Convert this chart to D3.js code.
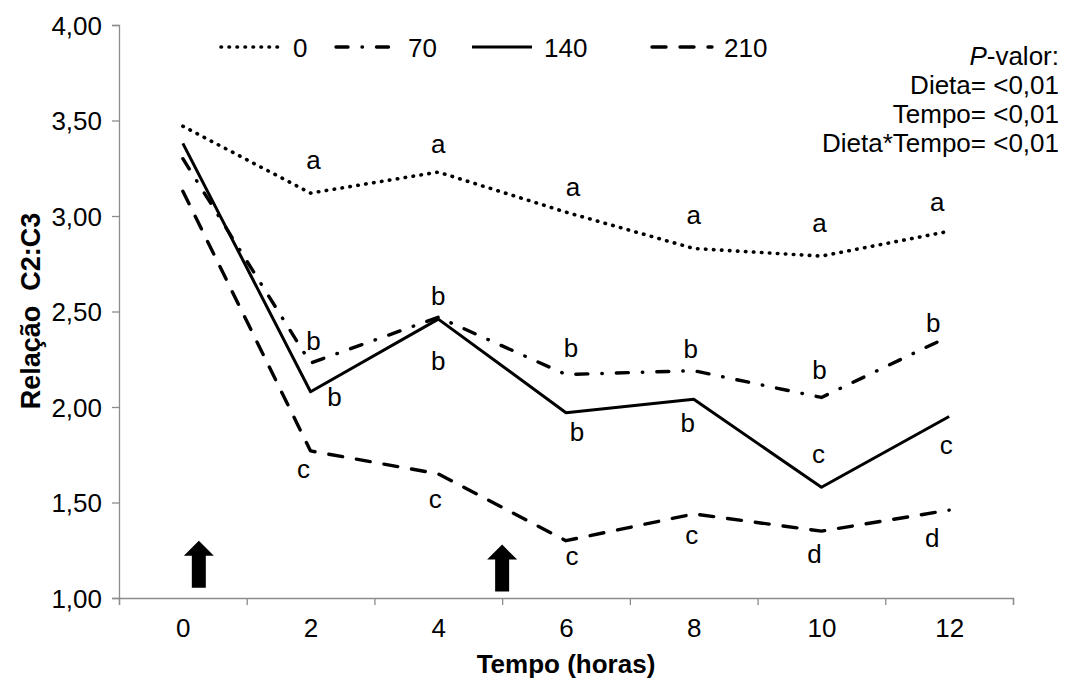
<!DOCTYPE html>
<html>
  <head>
    <meta charset="utf-8" />
    <script src="https://cdnjs.cloudflare.com/ajax/libs/d3/7.8.5/d3.min.js"></script>
    <style>
      body { margin: 0; background: #fff; }
      text { font-family: 'Liberation Sans', Arial, sans-serif; fill: #000; }
    </style>
  </head>
  <body>
    <svg width="1065" height="680"></svg>
    <script>
      // dados
      const hours = [0, 2, 4, 6, 8, 10, 12]
      const seriesNames = ['0', '70', '140', '210']
      const values0 = [3.47, 3.12, 3.23, 3.02, 2.83, 2.79, 2.92]
      const values70 = [3.30, 2.23, 2.47, 2.17, 2.19, 2.05, 2.37]
      const values140 = [3.38, 2.08, 2.46, 1.97, 2.04, 1.58, 1.95]
      const values210 = [3.13, 1.77, 1.65, 1.30, 1.44, 1.35, 1.46]
      const letters0 = ['', 'a', 'a', 'a', 'a', 'a', 'a']
      const letters70 = ['', 'b', 'b', 'b', 'b', 'b', 'b']
      const letters140 = ['', 'b', 'b', 'b', 'b', 'c', 'c']
      const letters210 = ['', 'c', 'c', 'c', 'c', 'd', 'd']
      const yTicks = [1, 1.5, 2, 2.5, 3, 3.5, 4]
      const pLines = ['Dieta= <0,01', 'Tempo= <0,01', 'Dieta*Tempo= <0,01']
      const arrowHours = [0.25, 5]
      const arrowTips = [1.3, 1.28]

      const svg = d3.select('svg')
      const fmt = (d) => d3.format('.2f')(d).replace('.', ',')

      const x = d3.scaleLinear().domain([-1, 13]).range([119, 1013])
      const y = d3.scaleLinear().domain([1, 4]).range([598, 25])

      // eixos
      const axisColor = '#8c8c8c'
      const gy = svg.append('g').attr('transform', `translate(${x(-1)},0)`)
        .call(d3.axisLeft(y).tickValues(yTicks).tickSize(7).tickFormat(fmt))
      const gx = svg.append('g').attr('transform', `translate(0,${y(1)})`)
        .call(d3.axisBottom(x).tickValues(d3.range(-1, 14, 2)).tickSize(7).tickFormat(''))
      svg.append('g').attr('transform', `translate(0,${y(1)})`)
        .call(d3.axisBottom(x).tickValues(hours).tickSize(0).tickPadding(21))
        .call((g) => g.select('.domain').remove())
        .selectAll('text').attr('font-size', 26)
      ;[gx, gy].forEach((g) => {
        g.selectAll('.domain, line').attr('stroke', axisColor).attr('stroke-width', 1.3)
      })
      gy.selectAll('text').attr('font-size', 26).attr('x', -17).attr('dy', '0.35em')
      svg.selectAll('.tick text').style('font-family', "'Liberation Sans', Arial, sans-serif").attr('fill', '#000')

      // títulos
      svg.append('text').attr('x', 566).attr('y', 673).attr('text-anchor', 'middle')
        .attr('font-size', 26).attr('font-weight', 'bold').text('Tempo (horas)')
      svg.append('text').attr('transform', 'translate(40,311) rotate(-90)')
        .attr('text-anchor', 'middle').attr('font-size', 27).attr('font-weight', 'bold')
        .style('white-space', 'pre').text('Relação  C2:C3')

      // séries
      const styles = [
        { dash: '0.5,7.5', width: 3.6 },
        { dash: '12,14,0.5,14', width: 3.4 },
        { dash: null, width: 3 },
        { dash: '14,14', width: 3.4 },
      ]
      const allValues = [values0, values70, values140, values210]
      const allLetters = [letters0, letters70, letters140, letters210]
      const line = d3.line().x((d) => x(d.h)).y((d) => y(d.v))

      allValues.forEach((vals, i) => {
        const pts = vals.map((v, j) => ({ h: hours[j], v }))
        svg.append('path').datum(pts).attr('d', line).attr('fill', 'none')
          .attr('stroke', '#000').attr('stroke-width', styles[i].width)
          .attr('stroke-linecap', styles[i].dash ? 'round' : 'butt')
          .attr('stroke-linejoin', 'round')
          .attr('stroke-dasharray', styles[i].dash)
      })

      // letras (deslocamento do centro da letra em relação ao ponto)
      const nudge = [
        [null, [3, -31], [0, -26], [7, -23], [0, -31], [-2, -31], [-12, -27]],
        [null, [3, -23], [0, -22], [5, -27], [-3, -22], [-2, -28], [-16, -14]],
        [null, [24, 5], [0, 41], [11, 19], [-6, 23], [-3, -31], [-3, 30]],
        [null, [-7, 20], [-3, 27], [6, 17], [-2, 23], [-7, 22], [-17, 27]],
      ]
      allLetters.forEach((ls, i) => {
        ls.forEach((l, j) => {
          if (!l) return
          const tall = l === 'b' || l === 'd'
          svg.append('text')
            .attr('x', x(hours[j]) + nudge[i][j][0])
            .attr('y', y(allValues[i][j]) + nudge[i][j][1] + (tall ? 9.5 : 7))
            .attr('text-anchor', 'middle').attr('font-size', 26).text(l)
        })
      })

      // legenda
      const legendX = [221, 336, 472, 652]
      const leg = svg.append('g')
      seriesNames.forEach((n, i) => {
        leg.append('line').attr('x1', legendX[i]).attr('x2', legendX[i] + 60)
          .attr('y1', 47).attr('y2', 47).attr('stroke', '#000')
          .attr('stroke-width', styles[i].width)
          .attr('stroke-linecap', styles[i].dash ? 'round' : 'butt')
          .attr('stroke-dasharray', styles[i].dash)
        leg.append('text').attr('x', legendX[i] + 72).attr('y', 57)
          .attr('font-size', 26).text(n)
      })

      // P-valor
      const pv = svg.append('text').attr('x', 1059).attr('y', 65)
        .attr('text-anchor', 'end').attr('font-size', 26)
      pv.append('tspan').attr('font-style', 'italic').text('P')
      pv.append('tspan').text('-valor:')
      pLines.forEach((t, i) => {
        svg.append('text').attr('x', 1059).attr('y', 94 + i * 29)
          .attr('text-anchor', 'end').attr('font-size', 26).text(t)
      })

      // setas
      arrowHours.forEach((h, i) => {
        const cx = x(h)
        const ty = y(arrowTips[i])
        const pts = [
          [cx, ty], [cx + 15, ty + 15], [cx + 7, ty + 15], [cx + 7, ty + 47],
          [cx - 7, ty + 47], [cx - 7, ty + 15], [cx - 15, ty + 15],
        ]
        svg.append('path').attr('d', 'M' + pts.map((p) => p.join(',')).join('L') + 'Z')
          .attr('fill', '#000')
      })
    </script>
  </body>
</html>
